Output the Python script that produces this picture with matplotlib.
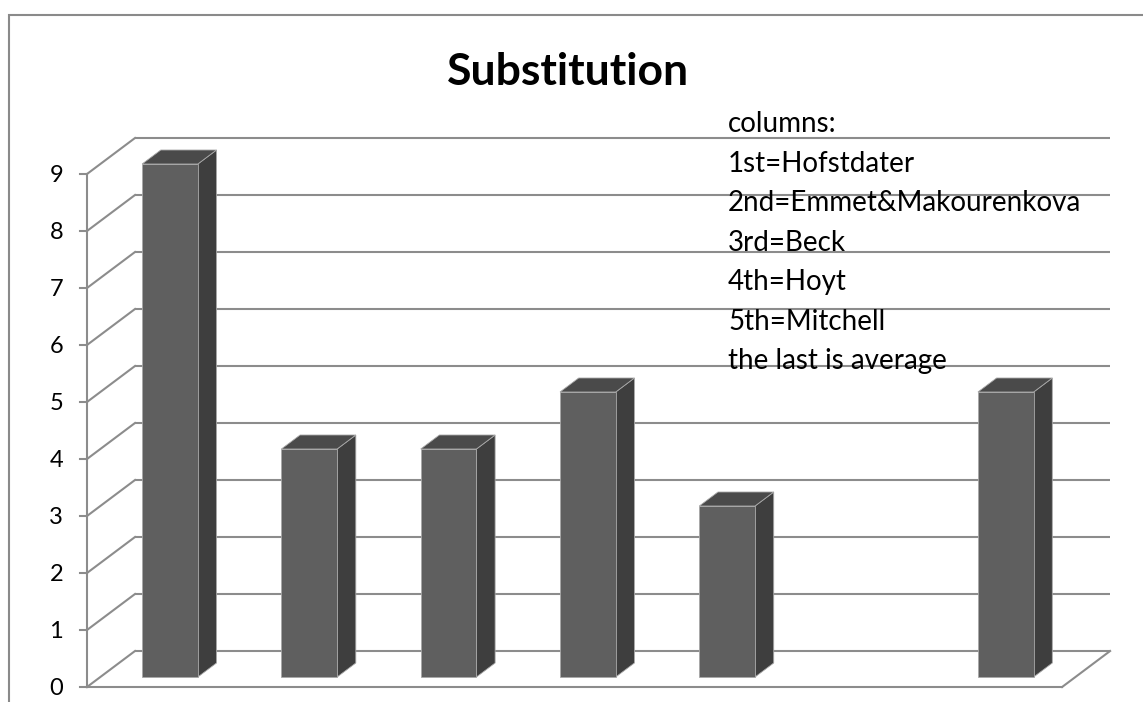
import matplotlib
matplotlib.use("Agg")
import matplotlib.pyplot as plt
from matplotlib.patches import Polygon, Rectangle

# chart data
categories = ["1st", "2nd", "3rd", "4th", "5th", "", "average"]
values = [9, 4, 4, 5, 3, None, 5]
y_ticks = list(range(0, 10))
title = "Substitution"
notes = [
    "columns:",
    "1st=Hofstdater",
    "2nd=Emmet&Makourenkova",
    "3rd=Beck",
    "4th=Hoyt",
    "5th=Mitchell",
    "the last is average",
]

# layout (pixels)
W, H = 1143, 702
X0_PX, Y0_PX = 87, 687      # front-left corner of the floor
SLOT_PX, UNIT_PX = 139.3, 57
DEPTH_PX = (48, 36)          # offset of the back wall
DX = DEPTH_PX[0] / SLOT_PX
DY = DEPTH_PX[1] / UNIT_PX
BAR_W = 0.4
BAR_D0, BAR_D1 = 10 / 36, 24 / 36

GRID = "#8c8c8c"
FRONT, SIDE, TOP = "#5f5f5f", "#3e3e3e", "#4a4a4a"
EDGE = "#a8a8a8"

plt.rcParams["font.family"] = ["Lato", "DejaVu Sans"]


def proj(x, v, d):
    # oblique projection: depth d in [0, 1] shifts right and up
    return (x + d * DX, v + d * DY)


fig = plt.figure(figsize=(W / 100, H / 100), dpi=100)
ax = fig.add_axes([0, 0, 1, 1])
ax.set_xlim(-X0_PX / SLOT_PX, (W - X0_PX) / SLOT_PX)
ax.set_ylim(-(H - Y0_PX) / UNIT_PX, Y0_PX / UNIT_PX)
ax.axis("off")

n = len(categories)
top = max(y_ticks)

# back wall and side wall gridlines
for k in y_ticks:
    (xa, ya), (xb, yb) = proj(0, k, 1), proj(n, k, 1)
    ax.plot([xa, xb], [ya, yb], color=GRID, lw=1.5, solid_capstyle="butt", zorder=1)
    (xa, ya), (xb, yb) = proj(0, k, 0), proj(0, k, 1)
    ax.plot([xa, xb], [ya, yb], color=GRID, lw=1.5, zorder=1)

# floor front edge and right edge
(xa, ya), (xb, yb) = proj(n, 0, 0), proj(n, 0, 1)
ax.plot([0, n], [0, 0], color=GRID, lw=1.5, zorder=1)
ax.plot([xa, xb], [ya, yb], color=GRID, lw=1.5, zorder=1)

# value axis
ax.plot([0, 0], [0, top], color=GRID, lw=1.5, zorder=2)
tick_len = 7 / SLOT_PX
for k in y_ticks:
    ax.plot([-tick_len, 0], [k, k], color=GRID, lw=1.5, zorder=2)
    ax.text(-24 / SLOT_PX, k - 0.03, str(k), ha="right", va="center", fontsize=17, color="#000000")

# 3d bars
for i, v in enumerate(values):
    if v is None:
        continue
    xl, xr = i + 0.5 - BAR_W / 2, i + 0.5 + BAR_W / 2
    faces = [
        ([proj(xr, 0, BAR_D0), proj(xr, 0, BAR_D1), proj(xr, v, BAR_D1), proj(xr, v, BAR_D0)], SIDE),
        ([proj(xl, v, BAR_D0), proj(xr, v, BAR_D0), proj(xr, v, BAR_D1), proj(xl, v, BAR_D1)], TOP),
        ([proj(xl, 0, BAR_D0), proj(xr, 0, BAR_D0), proj(xr, v, BAR_D0), proj(xl, v, BAR_D0)], FRONT),
    ]
    for pts, c in faces:
        ax.add_patch(Polygon(pts, closed=True, facecolor=c, edgecolor=EDGE, lw=0.6, zorder=3))

# title and notes
fig.text(568 / W, 1 - 85 / H, title, ha="center", va="baseline",
         fontsize=32, fontweight="bold", color="#000000")
for i, line in enumerate(notes):
    fig.text(728 / W, 1 - (132 + 39.5 * i) / H, line, ha="left", va="baseline",
             fontsize=20, color="#000000", zorder=5)

# chart border
fig.patches.append(Rectangle((9 / W, -0.1), 1.2, 1.1 - 15 / H, transform=fig.transFigure,
                             fill=False, edgecolor="#8a8a8a", lw=1.5))

fig.savefig("out.png", dpi=100)
